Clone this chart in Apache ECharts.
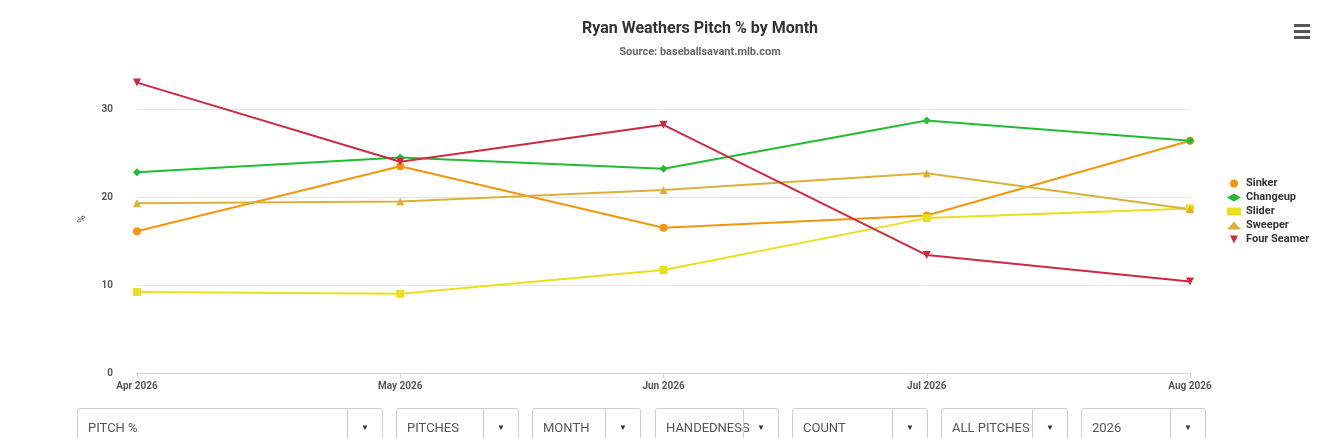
<!DOCTYPE html>
<html><head><meta charset="utf-8">
<script src="https://cdn.jsdelivr.net/npm/echarts@6/dist/echarts.min.js"></script>
<style>
body{margin:0;font-family:Roboto,sans-serif;overflow:hidden}
#chart{width:1343px;height:438px}
.sel{position:absolute;top:408px;height:38px;border:1px solid #ccc;border-radius:3px;background:#fff;font-size:13px;color:#555;box-sizing:border-box}
.sel span{position:absolute;left:10px;top:11px}
.sel i{position:absolute;right:0;top:0;width:34px;height:100%;border-left:1px solid #ccc;font-style:normal;font-size:8px;text-align:center;line-height:38px;color:#333}
</style></head><body>
<div id="chart"></div>
<script>
var months = ['Apr 2026','May 2026','Jun 2026','Jul 2026','Aug 2026'];
var sinker = [16.1,23.5,16.5,17.9,26.4];
var changeup = [22.8,24.5,23.2,28.7,26.4];
var slider = [9.2,9.0,11.7,17.6,18.7];
var sweeper = [19.3,19.5,20.8,22.7,18.6];
var fourSeamer = [33.0,24.0,28.2,13.4,10.4];
var controls = [['PITCH %',77,306],['PITCHES',396,123],['MONTH',532,109],['HANDEDNESS',655,124],['COUNT',792,136],['ALL PITCHES',941,127],['2026',1081,125]];

controls.forEach(function(c){
  var d=document.createElement('div');d.className='sel';
  d.style.left=c[1]+'px';d.style.width=c[2]+'px';
  d.innerHTML='<span>'+c[0]+'</span><i>&#9660;</i>';
  document.body.appendChild(d);
});

function s(name,data,color,symbol,size,rot){
  return {name:name,type:'line',data:data,symbol:symbol,symbolSize:size,symbolRotate:rot||0,
    lineStyle:{color:color,width:2},itemStyle:{color:color}};
}
var chart = echarts.init(document.getElementById('chart'));
chart.setOption({
  animation:false,
  textStyle:{fontFamily:'Roboto'},
  title:{text:'Ryan Weathers Pitch % by Month',subtext:'Source: baseballsavant.mlb.com',left:695,textAlign:'center',top:16,itemGap:10,
    textStyle:{fontSize:16,fontWeight:'bold',color:'#333'},subtextStyle:{fontSize:11,fontWeight:'bold',color:'#666'}},
  legend:{orient:'vertical',left:1222,top:173,itemGap:3,itemWidth:14,itemHeight:8,icon:'circle',
    textStyle:{fontSize:11,fontWeight:'bold',color:'#333'},
    data:[{name:'Sinker',icon:'circle'},{name:'Changeup',icon:'diamond'},{name:'Slider',icon:'rect'},{name:'Sweeper',icon:'triangle'},{name:'Four Seamer',icon:'path://M0,0L10,0L5,10Z'}]},
  grid:{left:137,right:153,top:65,bottom:65},
  xAxis:{type:'category',data:months,boundaryGap:false,
    axisLine:{lineStyle:{color:'#ccd6eb'}},axisTick:{alignWithLabel:true,lineStyle:{color:'#ccd6eb'}},
    axisLabel:{fontSize:10,fontWeight:'bold',color:'#555',interval:0}},
  yAxis:{type:'value',min:0,max:35,interval:10,name:'%',nameLocation:'middle',nameGap:50,nameRotate:90,
    nameTextStyle:{fontSize:10,color:'#555'},
    axisLabel:{fontSize:10,fontWeight:'bold',color:'#555',showMaxLabel:false,margin:24},
    splitLine:{lineStyle:{color:['#e6e6e6','#e6e6e6','#e6e6e6','#e6e6e6','rgba(0,0,0,0)']}}},
  graphic:[0,6,12].map(function(o){return {type:'rect',left:1294,top:24+o,shape:{width:16,height:3},style:{fill:'#555'}};}),
  series:[
    s('Sinker',sinker,'#f2960d','circle',8),
    s('Changeup',changeup,'#22bb33','diamond',8),
    s('Slider',slider,'#e8e01c','rect',8),
    s('Sweeper',sweeper,'#dcaf3a','triangle',8),
    s('Four Seamer',fourSeamer,'#cc2a41','triangle',8,180)
  ]
});
</script></body></html>
